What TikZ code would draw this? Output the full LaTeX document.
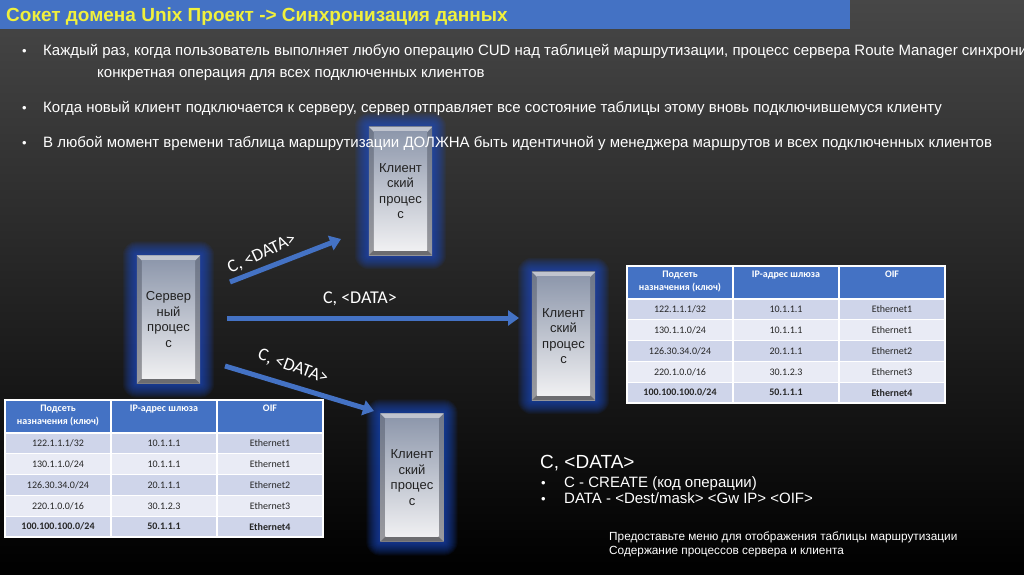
\documentclass[tikz,border=0pt]{standalone}
\usepackage{fontspec}
\setmainfont{Liberation Sans}
\newfontfamily\calfont{Carlito}
\usetikzlibrary{arrows.meta}
\definecolor{titleblue}{HTML}{4472C4}
\definecolor{arrowblue}{HTML}{4472C4}
\definecolor{titleyellow}{HTML}{F0F03C}
\definecolor{glowblue}{HTML}{1E50D0}
\definecolor{bgtop}{HTML}{474747}
\definecolor{bgmid}{HTML}{1A1A1A}
\definecolor{sidetop}{HTML}{6E778A}
\definecolor{sidebot}{HTML}{9A9A9E}
\definecolor{bevtop}{HTML}{C0C4CE}
\definecolor{bevbot}{HTML}{6C6C70}
\definecolor{facetop}{HTML}{8E98AC}
\definecolor{facebot}{HTML}{F0F0F2}
\definecolor{rowA}{HTML}{CFD5EA}
\definecolor{rowB}{HTML}{E9EBF5}
\definecolor{celltext}{HTML}{262626}
\definecolor{proctext}{HTML}{222222}
\pgfdeclarelayer{bg}
\pgfdeclarelayer{glow}
\pgfdeclarelayer{deco}
\pgfsetlayers{bg,glow,deco,main}
\newcommand\procdeco[1]{%
\begin{pgfonlayer}{glow}
\foreach \r in {1,...,14}{\fill[glowblue,opacity=0.075,rounded corners=\r pt] ([shift={(-\r,-\r)}]#1.north west) rectangle ([shift={(\r,\r)}]#1.south east);}
\end{pgfonlayer}
\begin{pgfonlayer}{deco}
\path[top color=sidetop,bottom color=sidebot] (#1.north west) rectangle (#1.south east);
\fill[bevtop] (#1.north west) -- (#1.north east) -- ([shift={(-5,5)}]#1.north east) -- ([shift={(5,5)}]#1.north west) -- cycle;
\fill[bevbot] (#1.south west) -- (#1.south east) -- ([shift={(-5,-5)}]#1.south east) -- ([shift={(5,-5)}]#1.south west) -- cycle;
\path[top color=facetop,bottom color=facebot] ([shift={(5,5)}]#1.north west) rectangle ([shift={(-5,-5)}]#1.south east);
\end{pgfonlayer}}
\newcommand\trow[5]{% prefix, row index, a, b, c
\node[cell] (#1r#2a) at (53,{33+20.8*#2+10.4}) {#3};
\node[cell] (#1r#2b) at (159,{33+20.8*#2+10.4}) {#4};
\node[cell] (#1r#2c) at (265,{33+20.8*#2+10.4}) {#5};}
\newcommand\rtable[3]{% prefix, x0, y0
\begin{scope}[shift={(#2,#3)}]
\fill[titleblue] (0,0) rectangle (318,33);
\foreach \i/\c in {0/rowA,1/rowB,2/rowA,3/rowB,4/rowA}{\fill[\c] (0,{33+20.8*\i}) rectangle (318,{33+20.8*(\i+1)});}
\foreach \i in {1,...,4}{\draw[white,line width=1.2pt] (0,{33+20.8*\i}) -- (318,{33+20.8*\i});}
\draw[white,line width=1.5pt] (0,33) -- (318,33);
\draw[white,line width=1.2pt] (106,0) -- (106,137) (212,0) -- (212,137);
\draw[white,line width=1.5pt] (0,0) rectangle (318,137);
\node[hdr] (#1h1) at (53,5) {Подсеть\\назначения (ключ)};
\node[hdr] (#1h2) at (159,5) {IP-адрес шлюза};
\node[hdr] (#1h3) at (265,5) {OIF};
\trow{#1}{0}{122.1.1.1/32}{10.1.1.1}{Ethernet1}
\trow{#1}{1}{130.1.1.0/24}{10.1.1.1}{Ethernet1}
\trow{#1}{2}{126.30.34.0/24}{20.1.1.1}{Ethernet2}
\trow{#1}{3}{220.1.0.0/16}{30.1.2.3}{Ethernet3}
\trow{#1}{4}{\bfseries 100.100.100.0/24}{\bfseries 50.1.1.1}{\bfseries Ethernet4}
\end{scope}}
\begin{document}
\begin{tikzpicture}[x=1pt,y=-1pt,
  proc/.style={minimum width=63pt,minimum height=128pt,inner sep=0pt,align=center,text=proctext,font=\fontsize{13}{15.5}\selectfont},
  arr/.style={line width=5pt,draw=arrowblue,-{Triangle[length=11pt,width=15pt]}},
  lbl/.style={text=white,font=\calfont\fontsize{18}{20}\selectfont,inner sep=0pt},
  btxt/.style={text=white,anchor=base west,inner sep=0pt,font=\fontsize{15}{17}\selectfont},
  hdr/.style={text=white,anchor=north,align=center,inner sep=0pt,font=\calfont\bfseries\fontsize{10}{13}\selectfont},
  cell/.style={text=celltext,inner sep=0pt,font=\calfont\fontsize{10}{11}\selectfont}]
\useasboundingbox (0,0) rectangle (1024,574);
\begin{pgfonlayer}{bg}
\shade[top color=bgtop,middle color=bgmid,bottom color=black] (0,0) rectangle (1024,574);
\fill[titleblue] (0,0) rectangle (850,29);
\end{pgfonlayer}
\node[anchor=base west,inner sep=0pt,text=titleyellow,font=\bfseries\fontsize{19}{22}\selectfont] (title) at (6,21) {Сокет домена Unix Проект -> Синхронизация данных};
% bullets
\node[btxt,font=\fontsize{13}{15}\selectfont] (b1d) at (22,55) {•};
\node[btxt] (b1) at (43,55) {Каждый раз, когда пользователь выполняет любую операцию CUD над таблицей маршрутизации, процесс сервера Route Manager синхронизирует};
\node[btxt] (b1c) at (97,77) {конкретная операция для всех подключенных клиентов};
\node[btxt,font=\fontsize{13}{15}\selectfont] (b2d) at (22,112) {•};
\node[btxt] (b2) at (43,112) {Когда новый клиент подключается к серверу, сервер отправляет все состояние таблицы этому вновь подключившемуся клиенту};
\node[btxt,font=\fontsize{13}{15}\selectfont] (b3d) at (22,147) {•};
\node[btxt] (b3) at (43,147) {В любой момент времени таблица маршрутизации ДОЛЖНА быть идентичной у менеджера маршрутов и всех подключенных клиентов};
% process boxes
\node[proc] (srv) at (168.5,319.5) {Сервер\\ный\\процес\\с};
\node[proc] (c1) at (400.5,191) {Клиент\\ский\\процес\\с};
\node[proc] (c2) at (563.5,336) {Клиент\\ский\\процес\\с};
\node[proc] (c3) at (412,477.5) {Клиент\\ский\\процес\\с};
\procdeco{srv}\procdeco{c1}\procdeco{c2}\procdeco{c3}
% arrows
\coordinate (a1s) at (230,282); \coordinate (a1e) at (341,239);
\coordinate (a2s) at (227,318); \coordinate (a2e) at (519,318);
\coordinate (a3s) at (225,366); \coordinate (a3e) at (374,411);
\draw[arr] (a1s) -- (a1e);
\draw[arr] (a2s) -- (a2e);
\draw[arr] (a3s) -- (a3e);
\node[lbl,rotate=25] (l1) at (262,254) {C, <DATA>};
\node[lbl] (l2) at (360,299) {C, <DATA>};
\node[lbl,rotate=-20] (l3) at (293,367) {C, <DATA>};
% tables
\rtable{tl}{5}{400}
\rtable{tr}{627}{266}
% legend
\node[anchor=base west,inner sep=0pt,text=white,font=\fontsize{19}{22}\selectfont] (leg) at (540,468) {C, <DATA>};
\node[btxt,font=\fontsize{13}{17}\selectfont] (lg1d) at (541,487) {•};
\node[btxt] (lg1) at (564,487) {C - CREATE (код операции)};
\node[btxt,font=\fontsize{13}{17}\selectfont] (lg2d) at (541,503) {•};
\node[btxt] (lg2) at (564,503) {DATA - <Dest/mask> <Gw IP> <OIF>};
\node[btxt,font=\fontsize{11.8}{14}\selectfont] (f1) at (609,540) {Предоставьте меню для отображения таблицы маршрутизации};
\node[btxt,font=\fontsize{11.8}{14}\selectfont] (f2) at (609,554) {Содержание процессов сервера и клиента};
\end{tikzpicture}
\end{document}
